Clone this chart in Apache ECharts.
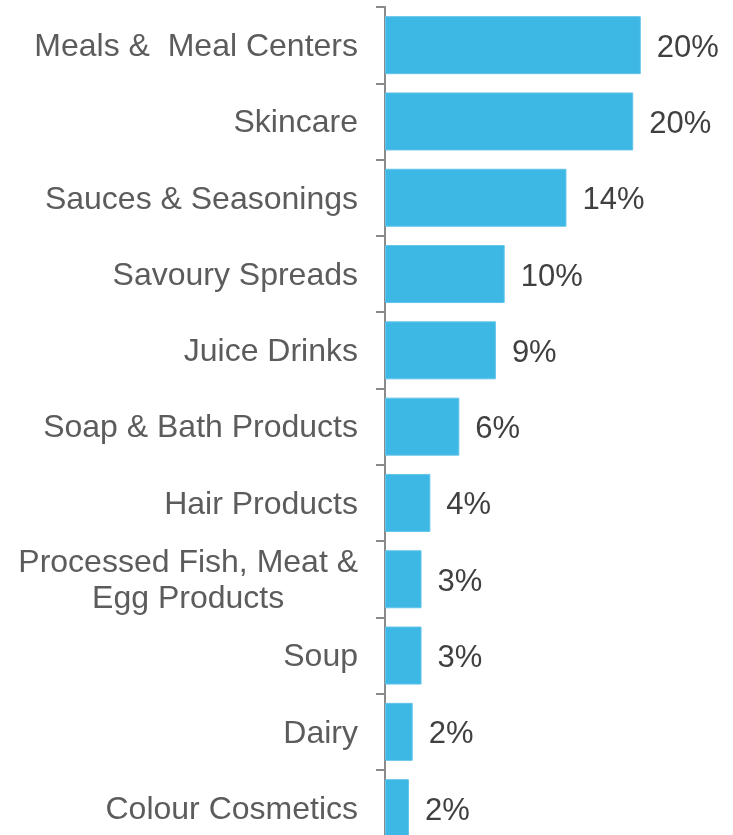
<!DOCTYPE html>
<html>
<head>
<meta charset="utf-8">
<title>Category share</title>
<script src="https://cdn.jsdelivr.net/npm/echarts@6/dist/echarts.min.js"></script>
<style>
  html, body { margin: 0; padding: 0; background: #ffffff; }
  #chart { width: 733px; height: 835px; }
</style>
</head>
<body>
<div id="chart"></div>
<script>
// Product categories, top to bottom
const categories = [
  'Meals &  Meal Centers',
  'Skincare',
  'Sauces & Seasonings',
  'Savoury Spreads',
  'Juice Drinks',
  'Soap & Bath Products',
  'Hair Products',
  'Processed Fish, Meat &\nEgg Products',
  'Soup',
  'Dairy',
  'Colour Cosmetics'
];

// Share of each category, in percent
const shares = [20.3, 19.7, 14.4, 9.5, 8.8, 5.9, 3.6, 2.9, 2.9, 2.2, 1.9];

const FONT = '"Liberation Sans", Arial, Helvetica, sans-serif';

const chart = echarts.init(document.getElementById('chart'), null, { renderer: 'canvas' });

chart.setOption({
  animation: false,
  backgroundColor: '#ffffff',
  // the plot runs past the lower edge, so the last band is cut off
  grid: {
    left: 385, right: 33, top: 7, bottom: -11.3,
    containLabel: false,
    outerBoundsMode: 'none'
  },
  xAxis: {
    type: 'value',
    min: 0,
    max: 25,
    show: false
  },
  yAxis: {
    type: 'category',
    data: categories,
    inverse: true,
    axisLine: { show: true, lineStyle: { color: '#8a8a8a', width: 2 } },
    axisTick: { show: true, length: 9, lineStyle: { color: '#8a8a8a', width: 2 } },
    axisLabel: {
      margin: 27,
      fontFamily: FONT,
      fontSize: 32,
      color: '#5c5c5c',
      lineHeight: 36,
      padding: [4, 0, 0, 0],
      formatter: function (v) {
        if (v.indexOf('\n') >= 0) {
          return v.split('\n').map(function (s) { return '{c|' + s + '}'; }).join('\n');
        }
        return v;
      },
      rich: {
        c: { align: 'center', fontFamily: FONT, fontSize: 32, color: '#5c5c5c', lineHeight: 36 }
      }
    },
    splitLine: { show: false }
  },
  series: [{
    type: 'bar',
    data: shares,
    barWidth: 58,
    itemStyle: { color: '#3db7e4', borderColor: '#62c4ea', borderWidth: 1 },
    label: {
      show: true,
      position: 'right',
      distance: 16,
      offset: [0, 3],
      fontFamily: FONT,
      fontSize: 31,
      color: '#404040',
      formatter: function (p) { return Math.round(p.value) + '%'; }
    }
  }]
});
</script>
</body>
</html>
